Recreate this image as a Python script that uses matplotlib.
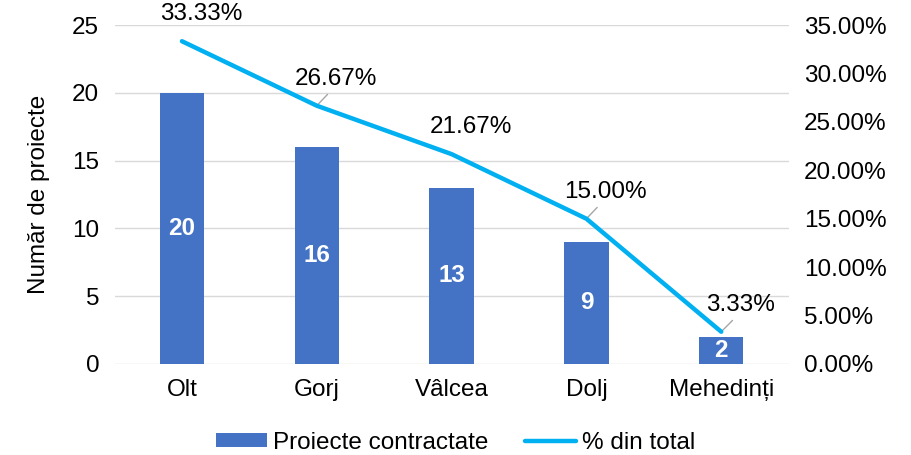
import matplotlib
matplotlib.use("Agg")
import matplotlib.pyplot as plt
from matplotlib.ticker import FuncFormatter

plt.rcParams['font.family'] = ['Liberation Sans', 'DejaVu Sans']

categories = ["Olt", "Gorj", "Vâlcea", "Dolj", "Mehedinți"]
projects = [20, 16, 13, 9, 2]
percent = [33.33, 26.67, 21.67, 15.00, 3.33]
leader = [False, True, False, True, True]

bar_color = "#4472C4"
line_color = "#00B0F0"
FS = 17.5

fig = plt.figure(figsize=(9.11, 4.55), dpi=100)
ax = fig.add_axes([0.1257, 0.2, 0.74, 0.745])
ax2 = ax.twinx()

x = list(range(len(categories)))
bars = ax.bar(x, projects, width=0.33, color=bar_color, zorder=2, label="Proiecte contractate")
for xi, v in zip(x, projects):
    ax.text(xi, v / 2, str(v), ha="center", va="center", color="white",
            fontsize=FS, fontweight="bold", zorder=3)

ax.set_xlim(-0.5, len(categories) - 0.5)
ax.set_ylim(0, 25)
ax.set_yticks([0, 5, 10, 15, 20, 25])
ax.yaxis.grid(True, color="#D9D9D9", linewidth=1)
ax.set_axisbelow(True)
ax.set_xticks(x)
ax.set_xticklabels(categories)
ax.tick_params(axis="both", length=0, labelsize=FS, pad=11)
ax.set_ylabel("Număr de proiecte", fontsize=FS, labelpad=16)
for s in ax.spines.values():
    s.set_visible(False)
for s in ax2.spines.values():
    s.set_visible(False)

line, = ax2.plot(x, percent, color=line_color, linewidth=3.2, solid_capstyle="round",
                 zorder=4, label="% din total")
ax2.set_ylim(0, 35)
ax2.set_yticks([0, 5, 10, 15, 20, 25, 30, 35])
ax2.yaxis.set_major_formatter(FuncFormatter(lambda v, p: f"{v:.2f}%"))
ax2.tick_params(axis="y", length=0, labelsize=FS, pad=11)

for xi, p, ld in zip(x, percent, leader):
    kw = {}
    if ld:
        kw["arrowprops"] = dict(arrowstyle="-", color="#A6A6A6", lw=1,
                                relpos=(0.45, 0.0), shrinkA=2, shrinkB=1)
    ax2.annotate(f"{p:.2f}%", xy=(xi, p), xytext=(14, 19.5), textcoords="offset points",
                 ha="center", va="center", fontsize=FS, color="black", **kw)

handles = [bars, line]
leg = fig.legend(handles, [h.get_label() for h in handles], loc="lower center",
                 bbox_to_anchor=(0.5, -0.045), ncol=2, frameon=False, fontsize=FS,
                 handlelength=2.1, handleheight=0.5, columnspacing=1.5, handletextpad=0.25)

fig.savefig("out.png", dpi=100)
